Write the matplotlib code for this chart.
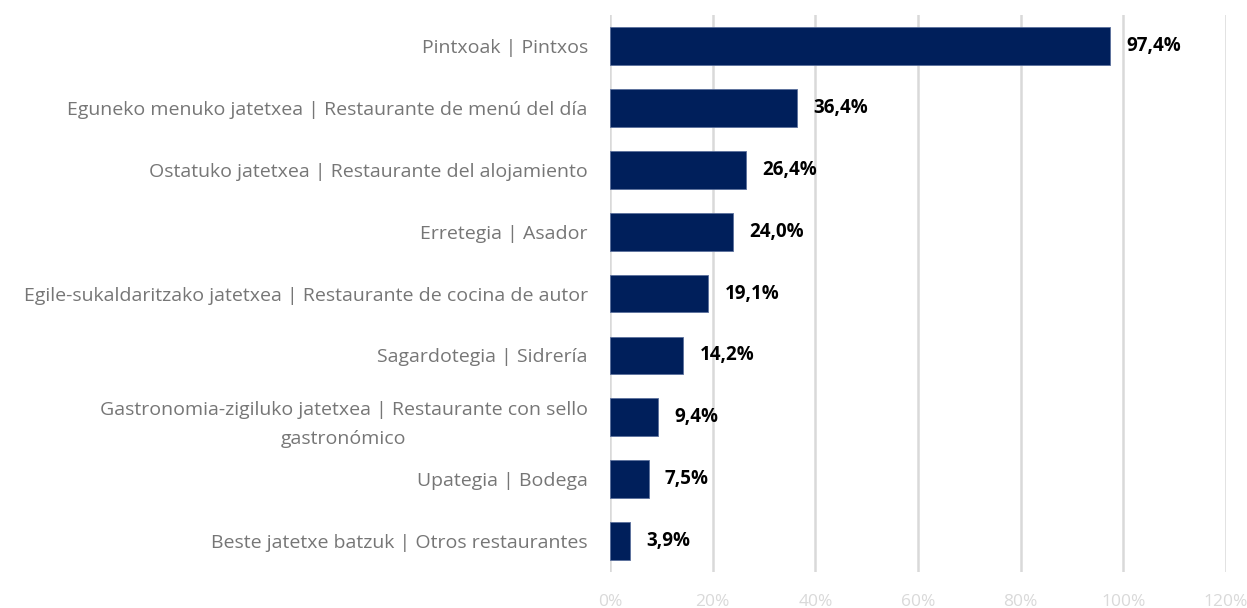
import matplotlib
matplotlib.use("Agg")
import matplotlib.pyplot as plt

categories = [
    "Pintxoak | Pintxos",
    "Eguneko menuko jatetxea | Restaurante de menú del día",
    "Ostatuko jatetxea | Restaurante del alojamiento",
    "Erretegia | Asador",
    "Egile-sukaldaritzako jatetxea | Restaurante de cocina de autor",
    "Sagardotegia | Sidrería",
    "Gastronomia-zigiluko jatetxea | Restaurante con sello\ngastronómico",
    "Upategia | Bodega",
    "Beste jatetxe batzuk | Otros restaurantes",
]
values = [97.4, 36.4, 26.4, 24.0, 19.1, 14.2, 9.4, 7.5, 3.9]
xticks = [0, 20, 40, 60, 80, 100, 120]
xtick_labels = ["0%", "20%", "40%", "60%", "80%", "100%", "120%"]

plt.rcParams['font.family'] = ['Open Sans', 'DejaVu Sans']

fig = plt.figure(figsize=(12.47, 6.08), dpi=100)
ax = fig.add_axes([0.4892, 0.0592, 0.4940, 0.9161])

y = list(range(len(categories)))
ax.barh(y, values, height=0.61, color="#001F5B", edgecolor="#5a6f9c", linewidth=0.6, zorder=3)
ax.set_ylim(len(categories) - 0.5, -0.5)
ax.set_xlim(0, 120)

for yi, v in zip(y, values):
    ax.text(v + 3.2, yi, f"{v:.1f}%".replace(".", ","), va="center", ha="left",
            fontsize=13.5, fontweight="bold", color="#000000", zorder=4)

ax.set_yticks(y)
ax.set_yticklabels(categories, fontsize=14, color="#767676", multialignment="center",
                   linespacing=1.75)
ax.tick_params(axis="y", length=0, pad=16)

ax.set_xticks(xticks)
ax.set_xticklabels(xtick_labels, fontsize=12.5, color="#d9d9d9")
ax.tick_params(axis="x", length=0, pad=16)

ax.grid(axis="x", color="#d9d9d9", linewidth=1.8, zorder=0)
for s in ax.spines.values():
    s.set_visible(False)

fig.savefig("out.png", dpi=100)
